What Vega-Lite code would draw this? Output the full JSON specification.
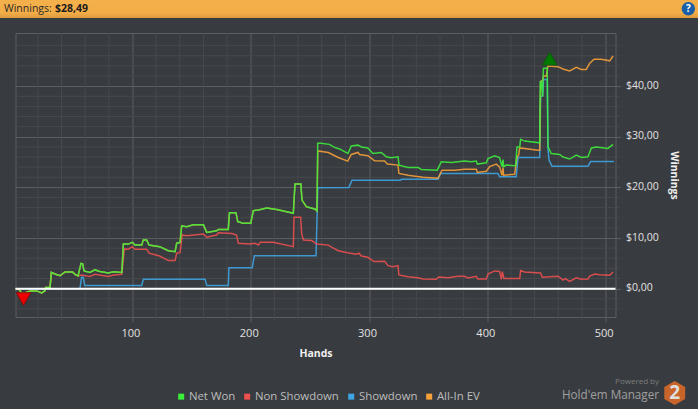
{
  "$schema": "https://vega.github.io/schema/vega-lite/v6.json",
  "description": "Hold'em Manager winnings graph by hands played",
  "width": 600,
  "height": 284,
  "autosize": {"type": "none"},
  "padding": {"left": 15.5, "top": 33, "right": 82.5, "bottom": 92},
  "background": "#383b3f",
  "config": {
    "font": "Open Sans",
    "view": {"stroke": "#5c5f62", "strokeWidth": 1}
  },
  "datasets": {
    "minor_x": [{"h":20},{"h":40},{"h":60},{"h":80},{"h":120},{"h":140},{"h":160},{"h":180},{"h":220},{"h":240},{"h":260},{"h":280},{"h":320},{"h":340},{"h":360},{"h":380},{"h":420},{"h":440},{"h":460},{"h":480}],
    "minor_y": [{"v":-4},{"v":-2},{"v":2},{"v":4},{"v":6},{"v":8},{"v":12},{"v":14},{"v":16},{"v":18},{"v":22},{"v":24},{"v":26},{"v":28},{"v":32},{"v":34},{"v":36},{"v":38},{"v":42},{"v":44},{"v":46},{"v":48}],
    "series": [
      {"h":1,"v":0,"s":["Showdown"]},{"h":55.6,"v":0,"s":["Showdown"]},{"h":57,"v":2.25,"s":["Showdown"]},{"h":58.4,"v":2.25,"s":["Showdown"]},{"h":59.6,"v":0.6,"s":["Showdown"]},{"h":107.8,"v":0.6,"s":["Showdown"]},{"h":109.2,"v":1.85,"s":["Showdown"]},{"h":161.4,"v":1.85,"s":["Showdown"]},{"h":162.8,"v":0.6,"s":["Showdown"]},{"h":181,"v":0.6,"s":["Showdown"]},{"h":181.6,"v":4.15,"s":["Showdown"]},{"h":201.3,"v":4.15,"s":["Showdown"]},{"h":203,"v":6.5,"s":["Showdown"]},{"h":255.2,"v":6.5,"s":["Showdown"]},{"h":256.7,"v":19.95,"s":["Showdown"]},{"h":283,"v":20,"s":["Showdown"]},{"h":285.6,"v":21.4,"s":["Showdown"]},{"h":326.7,"v":21.4,"s":["Showdown"]},{"h":327.3,"v":21.6,"s":["Showdown"]},{"h":358.3,"v":21.6,"s":["Showdown"]},{"h":360.6,"v":22.75,"s":["Showdown"]},{"h":409,"v":22.75,"s":["Showdown"]},{"h":410.4,"v":22.1,"s":["Showdown"]},{"h":424.5,"v":22.1,"s":["Showdown"]},{"h":425.9,"v":25.9,"s":["Showdown"]},{"h":444.3,"v":25.9,"s":["Showdown"]},{"h":445.1,"v":37.9,"s":["Showdown"]},{"h":446.8,"v":38.2,"s":["Showdown"]},{"h":447.6,"v":41.3,"s":["Showdown"]},{"h":450.7,"v":41.3,"s":["Showdown"]},{"h":451.3,"v":27.7,"s":["Showdown"]},{"h":452.2,"v":25.4,"s":["Showdown"]},{"h":454.7,"v":24.2,"s":["Showdown"]},{"h":485.1,"v":24.2,"s":["Showdown"]},{"h":487.4,"v":25.1,"s":["Showdown"]},{"h":507.1,"v":25.1,"s":["Showdown"]},

      {"h":1,"v":0,"s":["Non Showdown","All-In EV","Net Won"]},{"h":3.5,"v":0,"s":["Non Showdown","All-In EV","Net Won"]},{"h":6.3,"v":-0.85,"s":["Non Showdown","All-In EV","Net Won"]},{"h":9,"v":-0.85,"s":["Non Showdown","All-In EV","Net Won"]},{"h":13.4,"v":-0.45,"s":["Non Showdown","All-In EV","Net Won"]},{"h":19,"v":-0.45,"s":["Non Showdown","All-In EV","Net Won"]},{"h":23.2,"v":-0.85,"s":["Non Showdown","All-In EV","Net Won"]},{"h":26,"v":-0.4,"s":["Non Showdown","All-In EV","Net Won"]},{"h":26.6,"v":0.25,"s":["Non Showdown","All-In EV","Net Won"]},{"h":30.3,"v":0.25,"s":["Non Showdown","All-In EV","Net Won"]},{"h":31.4,"v":3.2,"s":["Non Showdown","All-In EV","Net Won"]},{"h":34.5,"v":2.9,"s":["Non Showdown","All-In EV","Net Won"]},{"h":38.7,"v":2.55,"s":["Non Showdown","All-In EV","Net Won"]},{"h":43,"v":3.3,"s":["Non Showdown","All-In EV","Net Won"]},{"h":49.4,"v":3.3,"s":["Non Showdown","All-In EV","Net Won"]},{"h":51.4,"v":2.8,"s":["Non Showdown","All-In EV","Net Won"]},{"h":54,"v":2.5,"s":["Non Showdown","All-In EV","Net Won"]},

      {"h":57,"v":2.7,"s":["Non Showdown"]},{"h":64,"v":2.4,"s":["Non Showdown"]},{"h":68.3,"v":2.85,"s":["Non Showdown"]},{"h":79.6,"v":2.4,"s":["Non Showdown"]},{"h":83.8,"v":2.7,"s":["Non Showdown"]},{"h":91,"v":2.85,"s":["Non Showdown"]},{"h":93.1,"v":7.85,"s":["Non Showdown"]},{"h":96.5,"v":7.8,"s":["Non Showdown"]},{"h":99.9,"v":8.3,"s":["Non Showdown"]},{"h":102.1,"v":7.8,"s":["Non Showdown"]},{"h":112,"v":7.8,"s":["Non Showdown"]},{"h":114,"v":7,"s":["Non Showdown"]},{"h":123,"v":6.45,"s":["Non Showdown"]},{"h":130.3,"v":5.55,"s":["Non Showdown"]},{"h":136,"v":5.55,"s":["Non Showdown"]},{"h":137.4,"v":7,"s":["Non Showdown"]},{"h":140.2,"v":7.1,"s":["Non Showdown"]},{"h":142.1,"v":10.6,"s":["Non Showdown"]},{"h":145.8,"v":10.45,"s":["Non Showdown"]},{"h":160,"v":10.8,"s":["Non Showdown"]},{"h":162.8,"v":10.15,"s":["Non Showdown"]},{"h":171.2,"v":10.6,"s":["Non Showdown"]},{"h":172.6,"v":11.05,"s":["Non Showdown"]},{"h":184,"v":10.9,"s":["Non Showdown"]},{"h":188,"v":10.6,"s":["Non Showdown"]},{"h":189.5,"v":8.95,"s":["Non Showdown"]},{"h":199.4,"v":8.8,"s":["Non Showdown"]},{"h":203.7,"v":8.95,"s":["Non Showdown"]},{"h":206.5,"v":8.6,"s":["Non Showdown"]},{"h":208,"v":9.15,"s":["Non Showdown"]},{"h":219,"v":9.15,"s":["Non Showdown"]},{"h":236,"v":8.3,"s":["Non Showdown"]},{"h":236.6,"v":14.1,"s":["Non Showdown"]},{"h":242.2,"v":14.1,"s":["Non Showdown"]},{"h":243,"v":10.9,"s":["Non Showdown"]},{"h":244.5,"v":9.6,"s":["Non Showdown"]},{"h":251.5,"v":9.5,"s":["Non Showdown"]},{"h":255.7,"v":8.8,"s":["Non Showdown"]},{"h":265.6,"v":8.6,"s":["Non Showdown"]},{"h":269.8,"v":8,"s":["Non Showdown"]},{"h":274,"v":7.5,"s":["Non Showdown"]},{"h":282,"v":7.1,"s":["Non Showdown"]},{"h":289,"v":6.8,"s":["Non Showdown"]},{"h":291.5,"v":7,"s":["Non Showdown"]},{"h":293.5,"v":6.45,"s":["Non Showdown"]},{"h":299,"v":6.2,"s":["Non Showdown"]},{"h":304.2,"v":5.35,"s":["Non Showdown"]},{"h":313.2,"v":5.4,"s":["Non Showdown"]},{"h":316,"v":4.55,"s":["Non Showdown"]},{"h":320,"v":4.35,"s":["Non Showdown"]},{"h":324.5,"v":4.55,"s":["Non Showdown"]},{"h":325.3,"v":2.7,"s":["Non Showdown"]},{"h":333,"v":2.35,"s":["Non Showdown"]},{"h":341.4,"v":2.15,"s":["Non Showdown"]},{"h":345.6,"v":1.9,"s":["Non Showdown"]},{"h":356.9,"v":1.85,"s":["Non Showdown"]},{"h":358.9,"v":2.3,"s":["Non Showdown"]},{"h":366.8,"v":2.15,"s":["Non Showdown"]},{"h":375.2,"v":2.45,"s":["Non Showdown"]},{"h":380.8,"v":2.45,"s":["Non Showdown"]},{"h":383.7,"v":2.1,"s":["Non Showdown"]},{"h":390.7,"v":2.45,"s":["Non Showdown"]},{"h":392,"v":1.9,"s":["Non Showdown"]},{"h":399.2,"v":1.9,"s":["Non Showdown"]},{"h":400.6,"v":2.9,"s":["Non Showdown"]},{"h":406.2,"v":3.5,"s":["Non Showdown"]},{"h":410.4,"v":3.4,"s":["Non Showdown"]},{"h":411.9,"v":1.85,"s":["Non Showdown"]},{"h":412.7,"v":3.35,"s":["Non Showdown"]},{"h":414.1,"v":2,"s":["Non Showdown"]},{"h":427.4,"v":2,"s":["Non Showdown"]},{"h":428.2,"v":3.6,"s":["Non Showdown"]},{"h":431.6,"v":3.3,"s":["Non Showdown"]},{"h":445.1,"v":3.1,"s":["Non Showdown"]},{"h":446.5,"v":2.25,"s":["Non Showdown"]},{"h":459.8,"v":2.45,"s":["Non Showdown"]},{"h":464,"v":1.7,"s":["Non Showdown"]},{"h":466,"v":2,"s":["Non Showdown"]},{"h":469.6,"v":1.45,"s":["Non Showdown"]},{"h":475.3,"v":2.15,"s":["Non Showdown"]},{"h":479.5,"v":1.85,"s":["Non Showdown"]},{"h":485.1,"v":1.9,"s":["Non Showdown"]},{"h":486.5,"v":2.5,"s":["Non Showdown"]},{"h":490.8,"v":2.9,"s":["Non Showdown"]},{"h":495,"v":2.75,"s":["Non Showdown"]},{"h":503.5,"v":2.65,"s":["Non Showdown"]},{"h":506.3,"v":3.3,"s":["Non Showdown"]},

      {"h":56.5,"v":5,"s":["All-In EV","Net Won"]},{"h":57.9,"v":4.9,"s":["All-In EV","Net Won"]},{"h":59,"v":3.5,"s":["All-In EV","Net Won"]},{"h":64,"v":3.2,"s":["All-In EV","Net Won"]},{"h":68.3,"v":3.7,"s":["All-In EV","Net Won"]},{"h":72.5,"v":3.4,"s":["All-In EV","Net Won"]},{"h":79.6,"v":3.1,"s":["All-In EV","Net Won"]},{"h":83.8,"v":3.35,"s":["All-In EV","Net Won"]},{"h":91,"v":3.2,"s":["All-In EV","Net Won"]},{"h":92.3,"v":8.8,"s":["All-In EV","Net Won"]},{"h":96.5,"v":8.8,"s":["All-In EV","Net Won"]},{"h":99.9,"v":9.15,"s":["All-In EV","Net Won"]},{"h":102.1,"v":8.6,"s":["All-In EV","Net Won"]},{"h":107.8,"v":8.6,"s":["All-In EV","Net Won"]},{"h":109.2,"v":9.6,"s":["All-In EV","Net Won"]},{"h":112,"v":9.6,"s":["All-In EV","Net Won"]},{"h":114,"v":8.6,"s":["All-In EV","Net Won"]},{"h":123,"v":8.3,"s":["All-In EV","Net Won"]},{"h":130.3,"v":7.5,"s":["All-In EV","Net Won"]},{"h":136,"v":7.3,"s":["All-In EV","Net Won"]},{"h":137.4,"v":9,"s":["All-In EV","Net Won"]},{"h":140.2,"v":9.1,"s":["All-In EV","Net Won"]},{"h":141.6,"v":12.4,"s":["All-In EV","Net Won"]},{"h":145.8,"v":12.25,"s":["All-In EV","Net Won"]},{"h":151.5,"v":12.6,"s":["All-In EV","Net Won"]},{"h":160,"v":12.6,"s":["All-In EV","Net Won"]},{"h":162.8,"v":11.1,"s":["All-In EV","Net Won"]},{"h":171.2,"v":11.45,"s":["All-In EV","Net Won"]},{"h":172.6,"v":11.7,"s":["All-In EV","Net Won"]},{"h":181,"v":11.7,"s":["All-In EV","Net Won"]},{"h":182,"v":15,"s":["All-In EV","Net Won"]},{"h":187.5,"v":15,"s":["All-In EV","Net Won"]},{"h":189,"v":13.25,"s":["All-In EV","Net Won"]},{"h":193.7,"v":12.9,"s":["All-In EV","Net Won"]},{"h":200,"v":12.9,"s":["All-In EV","Net Won"]},{"h":202.2,"v":15.4,"s":["All-In EV","Net Won"]},{"h":206.5,"v":15.55,"s":["All-In EV","Net Won"]},{"h":213.5,"v":15.95,"s":["All-In EV","Net Won"]},{"h":222,"v":15.65,"s":["All-In EV","Net Won"]},{"h":236,"v":14.9,"s":["All-In EV","Net Won"]},{"h":237.4,"v":20.65,"s":["All-In EV","Net Won"]},{"h":242.4,"v":20.65,"s":["All-In EV","Net Won"]},{"h":243.3,"v":17.5,"s":["All-In EV","Net Won"]},{"h":247,"v":16.2,"s":["All-In EV","Net Won"]},{"h":254.6,"v":15.7,"s":["All-In EV","Net Won"]},{"h":256,"v":15.35,"s":["All-In EV","Net Won"]},

      {"h":256.7,"v":27.2,"s":["All-In EV"]},{"h":265.6,"v":26.9,"s":["All-In EV"]},{"h":274,"v":25.9,"s":["All-In EV"]},{"h":282,"v":25.2,"s":["All-In EV"]},{"h":285,"v":26.5,"s":["All-In EV"]},{"h":290.7,"v":26.9,"s":["All-In EV"]},{"h":292,"v":26.5,"s":["All-In EV"]},{"h":299,"v":26.25,"s":["All-In EV"]},{"h":304.7,"v":25.25,"s":["All-In EV"]},{"h":313.2,"v":25.2,"s":["All-In EV"]},{"h":315.5,"v":24.6,"s":["All-In EV"]},{"h":324.5,"v":24.4,"s":["All-In EV"]},{"h":325.3,"v":22.75,"s":["All-In EV"]},{"h":333,"v":22.4,"s":["All-In EV"]},{"h":345.6,"v":22,"s":["All-In EV"]},{"h":358.3,"v":21.8,"s":["All-In EV"]},{"h":361.7,"v":23.4,"s":["All-In EV"]},{"h":372.4,"v":23.4,"s":["All-In EV"]},{"h":380.8,"v":23.6,"s":["All-In EV"]},{"h":390.7,"v":23.6,"s":["All-In EV"]},{"h":391.6,"v":22.95,"s":["All-In EV"]},{"h":399.2,"v":23.2,"s":["All-In EV"]},{"h":402,"v":24.1,"s":["All-In EV"]},{"h":407.6,"v":24.6,"s":["All-In EV"]},{"h":410.4,"v":24.05,"s":["All-In EV"]},{"h":412.4,"v":22.4,"s":["All-In EV"]},{"h":413.3,"v":23.9,"s":["All-In EV"]},{"h":413.8,"v":22.4,"s":["All-In EV"]},{"h":423.1,"v":22.6,"s":["All-In EV"]},{"h":425.1,"v":26,"s":["All-In EV"]},{"h":426.5,"v":26.4,"s":["All-In EV"]},{"h":427.4,"v":27.8,"s":["All-In EV"]},{"h":443,"v":27.35,"s":["All-In EV"]},{"h":444.3,"v":27.35,"s":["All-In EV"]},{"h":445.1,"v":40.9,"s":["All-In EV"]},{"h":446.8,"v":41.2,"s":["All-In EV"]},{"h":447.6,"v":42,"s":["All-In EV"]},{"h":449.9,"v":42,"s":["All-In EV"]},{"h":451.3,"v":44,"s":["All-In EV"]},{"h":459.8,"v":43.85,"s":["All-In EV"]},{"h":464,"v":43.4,"s":["All-In EV"]},{"h":469.6,"v":43,"s":["All-In EV"]},{"h":475.3,"v":43.7,"s":["All-In EV"]},{"h":479.5,"v":43.3,"s":["All-In EV"]},{"h":483.7,"v":43.3,"s":["All-In EV"]},{"h":486.5,"v":44.5,"s":["All-In EV"]},{"h":490.2,"v":45.3,"s":["All-In EV"]},{"h":496.4,"v":45.3,"s":["All-In EV"]},{"h":503.5,"v":45,"s":["All-In EV"]},{"h":506.3,"v":45.95,"s":["All-In EV"]},

      {"h":256.6,"v":28.7,"s":["Net Won"]},{"h":259,"v":28.7,"s":["Net Won"]},{"h":266.6,"v":28.5,"s":["Net Won"]},{"h":270.8,"v":27.9,"s":["Net Won"]},{"h":275,"v":27.6,"s":["Net Won"]},{"h":282.2,"v":26.7,"s":["Net Won"]},{"h":285,"v":28.2,"s":["Net Won"]},{"h":290.7,"v":28.35,"s":["Net Won"]},{"h":293.5,"v":28,"s":["Net Won"]},{"h":299,"v":27.8,"s":["Net Won"]},{"h":303.3,"v":26.7,"s":["Net Won"]},{"h":310.4,"v":26.9,"s":["Net Won"]},{"h":314.6,"v":26.05,"s":["Net Won"]},{"h":318.8,"v":25.85,"s":["Net Won"]},{"h":324.5,"v":26.05,"s":["Net Won"]},{"h":325.4,"v":24.4,"s":["Net Won"]},{"h":333,"v":23.95,"s":["Net Won"]},{"h":341.4,"v":23.95,"s":["Net Won"]},{"h":344.2,"v":23.55,"s":["Net Won"]},{"h":357.7,"v":23.4,"s":["Net Won"]},{"h":361.1,"v":25.05,"s":["Net Won"]},{"h":369.6,"v":24.9,"s":["Net Won"]},{"h":380.8,"v":25.2,"s":["Net Won"]},{"h":386.5,"v":25.05,"s":["Net Won"]},{"h":390.7,"v":25.2,"s":["Net Won"]},{"h":391.6,"v":24.6,"s":["Net Won"]},{"h":399.2,"v":24.85,"s":["Net Won"]},{"h":400.6,"v":25.7,"s":["Net Won"]},{"h":406.2,"v":26.25,"s":["Net Won"]},{"h":410.4,"v":25.9,"s":["Net Won"]},{"h":412.4,"v":24.1,"s":["Net Won"]},{"h":413.3,"v":25.5,"s":["Net Won"]},{"h":413.8,"v":24.1,"s":["Net Won"]},{"h":416,"v":24.4,"s":["Net Won"]},{"h":424,"v":24.3,"s":["Net Won"]},{"h":425.1,"v":28,"s":["Net Won"]},{"h":427.4,"v":28,"s":["Net Won"]},{"h":428.2,"v":29.5,"s":["Net Won"]},{"h":431.6,"v":29.15,"s":["Net Won"]},{"h":444.3,"v":28.8,"s":["Net Won"]},{"h":444.8,"v":40.9,"s":["Net Won"]},{"h":445.7,"v":40.9,"s":["Net Won"]},{"h":446.8,"v":37.9,"s":["Net Won"]},{"h":447.4,"v":43.5,"s":["Net Won"]},{"h":450.7,"v":43.6,"s":["Net Won"]},{"h":451.3,"v":28,"s":["Net Won"]},{"h":454.1,"v":26.7,"s":["Net Won"]},{"h":461.2,"v":26.5,"s":["Net Won"]},{"h":464,"v":26,"s":["Net Won"]},{"h":469.6,"v":25.6,"s":["Net Won"]},{"h":475.3,"v":26.4,"s":["Net Won"]},{"h":479.5,"v":25.9,"s":["Net Won"]},{"h":485.1,"v":26.05,"s":["Net Won"]},{"h":488,"v":27.8,"s":["Net Won"]},{"h":492.2,"v":28,"s":["Net Won"]},{"h":502,"v":27.7,"s":["Net Won"]},{"h":506.3,"v":28.49,"s":["Net Won"]}
    ]
  },
  "layer": [
    {
      "data": {"name": "minor_x"},
      "mark": {"type": "rule", "color": "#47494d", "strokeWidth": 1},
      "encoding": {
        "x": {"field": "h", "type": "quantitative"},
        "y": {"datum": -6.4},
        "y2": {"datum": 50.5}
      }
    },
    {
      "data": {"name": "minor_y"},
      "mark": {"type": "rule", "color": "#47494d", "strokeWidth": 1},
      "encoding": {
        "y": {"field": "v", "type": "quantitative"},
        "x": {"datum": 1.1},
        "x2": {"datum": 512.2}
      }
    },
    {
      "data": {"name": "series"},
      "transform": [{"flatten": ["s"]}],
      "mark": {"type": "line", "strokeWidth": 1.5, "opacity": 0.88, "clip": true},
      "encoding": {
        "x": {
          "field": "h",
          "type": "quantitative",
          "scale": {"domain": [1.1, 508.4], "nice": false, "zero": false},
          "axis": {
            "title": "Hands",
            "values": [100, 200, 300, 400, 500],
            "format": "d",
            "grid": true,
            "gridColor": "#5c5f62",
            "gridOpacity": 1,
            "domain": false,
            "tickColor": "#5c5f62",
            "tickSize": 5,
            "labelColor": "#e2e2e2",
            "labelFont": "Open Sans",
            "labelFontSize": 11,
            "labelPadding": 5,
            "labelFlush": false,
            "labelOverlap": false,
            "labelOffset": -2,
            "titleColor": "#f0f0f0",
            "titleFont": "Open Sans",
            "titleFontSize": 10.5,
            "titleFontWeight": "bold",
            "titlePadding": 10
          }
        },
        "y": {
          "field": "v",
          "type": "quantitative",
          "scale": {"domain": [-5.6, 50.5], "nice": false, "zero": false},
          "axis": {
            "title": "Winnings",
            "orient": "right",
            "values": [0, 10, 20, 30, 40],
            "labelExpr": "'$' + replace(format(datum.value, '.2f'), '.', ',')",
            "grid": true,
            "gridColor": "#5c5f62",
            "gridOpacity": 1,
            "domain": false,
            "tickColor": "#5c5f62",
            "tickSize": 5,
            "labelColor": "#e2e2e2",
            "labelFont": "Open Sans",
            "labelFontSize": 10.5,
            "labelPadding": 5,
            "labelFlush": false,
            "labelOffset": -1,
            "titleColor": "#f0f0f0",
            "titleFont": "Open Sans",
            "titleFontSize": 10.5,
            "titleFontWeight": "bold",
            "titlePadding": 10
          }
        },
        "color": {
          "field": "s",
          "type": "nominal",
          "scale": {
            "domain": ["Net Won", "Non Showdown", "Showdown", "All-In EV"],
            "range": ["#3cee3c", "#ee5050", "#3fa6e6", "#f6a13a"]
          },
          "legend": {
            "title": null,
            "orient": "none",
            "direction": "horizontal",
            "legendX": 160,
            "legendY": 357.5,
            "symbolType": "square",
            "symbolSize": 36,
            "symbolStrokeWidth": 0,
            "symbolOpacity": 1,
            "labelColor": "#bdbdbd",
            "labelFont": "Open Sans",
            "labelFontSize": 11.4,
            "labelOffset": 2,
            "columnPadding": 6,
            "encode": {"symbols": {"update": {"fill": {"scale": "color", "field": "value"}, "opacity": {"value": 1}}}}
          }
        }
      }
    },
    {
      "data": {"values": [{}]},
      "mark": {"type": "rule", "color": "#ffffff", "strokeWidth": 2},
      "encoding": {"y": {"datum": 0}, "x": {"datum": 1.1}, "x2": {"datum": 508.4}}
    },
    {
      "data": {"values": [{}]},
      "mark": {"type": "point", "shape": "triangle-down", "filled": true, "size": 210, "color": "#ee0000", "stroke": "#8a0a0a", "strokeWidth": 1, "opacity": 1},
      "encoding": {"x": {"datum": 7.9}, "y": {"datum": -2.05}}
    },
    {
      "data": {"values": [{}]},
      "mark": {"type": "point", "shape": "triangle-up", "filled": true, "size": 210, "color": "#027a02", "stroke": "#0a5a0a", "strokeWidth": 1, "opacity": 1},
      "encoding": {"x": {"datum": 452.8}, "y": {"datum": 45.4}}
    },
    {
      "data": {"values": [{}]},
      "mark": {
        "type": "rect",
        "color": {
          "gradient": "linear", "x1": 0, "y1": 0, "x2": 0, "y2": 1,
          "stops": [{"offset": 0, "color": "#f4b04b"}, {"offset": 0.7, "color": "#f4ae48"}, {"offset": 1, "color": "#dd9a3e"}]
        }
      },
      "encoding": {"x": {"datum": -12}, "x2": {"datum": 578.2}, "y": {"datum": 57.02}, "y2": {"datum": 53.46}}
    },
    {
      "data": {"values": [{}]},
      "mark": {"type": "text", "text": "Winnings:", "align": "left", "baseline": "middle", "font": "Open Sans", "fontSize": 10.5, "color": "#2a2a2a"},
      "encoding": {"x": {"datum": -8.6}, "y": {"datum": 55.3}}
    },
    {
      "data": {"values": [{}]},
      "mark": {"type": "text", "text": "$28,49", "align": "left", "baseline": "middle", "font": "Open Sans", "fontSize": 10.5, "fontWeight": "bold", "color": "#1c1c1c"},
      "encoding": {"x": {"datum": 34.5}, "y": {"datum": 55.3}}
    },
    {
      "data": {"values": [{}]},
      "mark": {"type": "point", "shape": "circle", "filled": true, "size": 180, "color": "#1a5ea6", "opacity": 1},
      "encoding": {"x": {"datum": 570}, "y": {"datum": 55.3}}
    },
    {
      "data": {"values": [{}]},
      "mark": {"type": "text", "text": "?", "align": "center", "baseline": "middle", "font": "Open Sans", "fontSize": 10, "fontWeight": "bold", "color": "#ffffff"},
      "encoding": {"x": {"datum": 570}, "y": {"datum": 55.3}}
    },
    {
      "data": {"values": [{}]},
      "mark": {"type": "text", "text": "Powered by", "align": "right", "baseline": "middle", "font": "Open Sans", "fontSize": 8, "color": "#7d7d7d"},
      "encoding": {"x": {"datum": 545.2}, "y": {"datum": -18.4}}
    },
    {
      "data": {"values": [{}]},
      "mark": {"type": "text", "text": "Hold'em Manager", "align": "right", "baseline": "middle", "font": "Open Sans", "fontSize": 11.7, "color": "#a0a0a0"},
      "encoding": {"x": {"datum": 545.2}, "y": {"datum": -21}}
    },
    {
      "data": {"values": [{}]},
      "mark": {"type": "point", "shape": "M0,-1L0.87,-0.5L0.87,0.5L0,1L-0.87,0.5L-0.87,-0.5Z", "filled": true, "size": 576, "color": "#c9652b", "opacity": 1},
      "encoding": {"x": {"datum": 558.5}, "y": {"datum": -20.62}}
    },
    {
      "data": {"values": [{}]},
      "mark": {"type": "text", "text": "2", "align": "center", "baseline": "middle", "font": "Open Sans", "fontSize": 19, "fontWeight": "bold", "color": "#dedede"},
      "encoding": {"x": {"datum": 558.5}, "y": {"datum": -20.62}}
    }
  ]
}
